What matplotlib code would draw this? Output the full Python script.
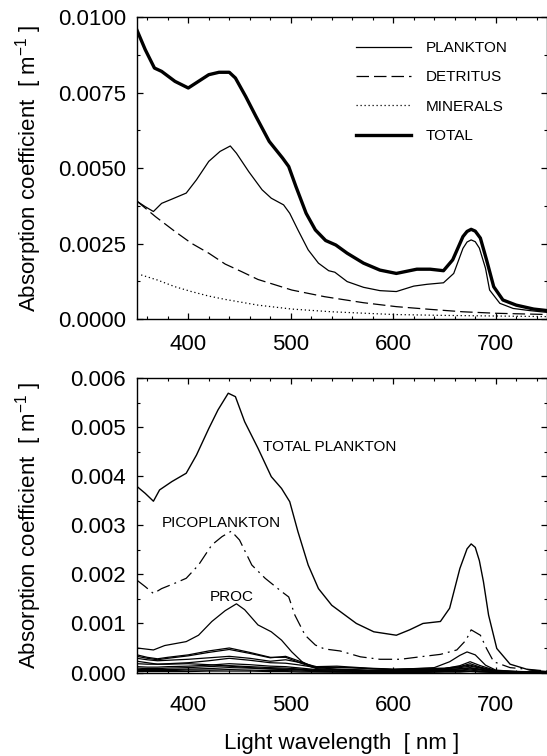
import matplotlib

matplotlib.use("Agg")
import matplotlib.pyplot as plt
from matplotlib.ticker import FormatStrFormatter, MultipleLocator

plt.rcParams["font.family"] = ["Liberation Sans", "DejaVu Sans"]
plt.rcParams["mathtext.default"] = "regular"

# top panel: absorption components (values in 1e-3 m^-1)
wl_total = [350, 358, 367, 374, 387, 400, 410, 420, 430, 440, 446, 456, 466, 479, 492, 498,
            505, 515, 524, 534, 544, 555, 571, 587, 603, 623, 636, 649, 658, 668, 672, 676,
            680, 685, 691, 698, 707, 720, 737, 750]
total = [9.56, 8.92, 8.31, 8.20, 7.87, 7.65, 7.87, 8.09, 8.17, 8.17, 7.98, 7.37, 6.71, 5.88,
         5.33, 5.05, 4.39, 3.50, 2.95, 2.60, 2.45, 2.18, 1.85, 1.62, 1.51, 1.65, 1.65, 1.60,
         1.96, 2.73, 2.90, 2.97, 2.91, 2.68, 1.96, 1.07, 0.63, 0.46, 0.33, 0.28]

wl_plankton = [350, 358, 366, 374, 384, 398, 408, 420, 431, 441, 447, 459, 472, 481, 493, 499,
               507, 517, 527, 537, 543, 555, 571, 587, 603, 620, 633, 649, 659, 668, 672, 676,
               680, 684, 690, 694, 704, 717, 733, 750]
plankton = [3.90, 3.72, 3.56, 3.83, 3.97, 4.17, 4.61, 5.22, 5.55, 5.73, 5.49, 4.88, 4.28, 4.00,
            3.78, 3.50, 2.95, 2.29, 1.85, 1.60, 1.55, 1.24, 1.05, 0.94, 0.91, 1.09, 1.15, 1.20,
            1.51, 2.34, 2.55, 2.62, 2.56, 2.35, 1.68, 0.96, 0.52, 0.35, 0.28, 0.22]

wl_detritus = [350, 368, 387, 403, 420, 436, 452, 468, 485, 501, 517, 533, 550, 571, 603, 636,
               668, 701, 750]
detritus = [3.90, 3.39, 2.90, 2.51, 2.18, 1.82, 1.57, 1.31, 1.13, 0.96, 0.85, 0.74, 0.65, 0.54,
            0.41, 0.32, 0.24, 0.19, 0.15]

wl_minerals = [354, 370, 387, 403, 420, 436, 468, 501, 540, 600, 650, 700, 750]
minerals = [1.46, 1.29, 1.07, 0.91, 0.76, 0.65, 0.46, 0.33, 0.24, 0.15, 0.12, 0.10, 0.08]

# bottom panel: size fractions / groups
wl_tp = [350, 358, 366, 372, 384, 398, 408, 420, 429, 439, 446, 455, 468, 481, 491, 499, 507,
         517, 527, 540, 551, 564, 581, 603, 616, 629, 646, 655, 665, 672, 676, 680, 684, 688,
         693, 701, 714, 733, 750]
total_plankton = [3.79, 3.65, 3.49, 3.72, 3.89, 4.06, 4.43, 4.97, 5.35, 5.69, 5.62, 5.11, 4.57,
                  3.99, 3.75, 3.48, 2.87, 2.19, 1.71, 1.37, 1.20, 1.00, 0.83, 0.76, 0.87, 1.00,
                  1.04, 1.31, 2.12, 2.52, 2.62, 2.55, 2.28, 1.85, 1.17, 0.49, 0.17, 0.05, 0.02]

wl_pico = [350, 358, 366, 374, 387, 398, 410, 423, 433, 442, 450, 462, 475, 491, 498, 504, 514,
           524, 533, 548, 568, 587, 607, 626, 646, 662, 671, 676, 685, 691, 698, 714, 750]
pico = [1.88, 1.75, 1.61, 1.71, 1.82, 1.92, 2.19, 2.60, 2.77, 2.88, 2.70, 2.19, 1.92, 1.65,
        1.54, 1.17, 0.76, 0.56, 0.48, 0.44, 0.32, 0.27, 0.27, 0.32, 0.37, 0.46, 0.66, 0.87,
        0.76, 0.49, 0.22, 0.10, 0.03]

wl_proc = [350, 366, 377, 398, 410, 423, 436, 447, 455, 468, 481, 491, 501, 511, 520, 540, 560,
           600, 640, 655, 665, 672, 680, 690, 700, 720, 750]
proc = [0.50, 0.46, 0.55, 0.63, 0.76, 1.04, 1.26, 1.40, 1.28, 0.97, 0.83, 0.66, 0.42, 0.22,
        0.12, 0.10, 0.10, 0.06, 0.10, 0.22, 0.35, 0.42, 0.36, 0.15, 0.05, 0.02, 0.01]

wl_small = [350, 360, 370, 380, 400, 420, 440, 460, 480, 495, 510, 525, 545, 575, 600, 625, 650,
            665, 675, 685, 700, 725, 750]
small_groups = [
    [0.36, 0.31, 0.28, 0.31, 0.36, 0.44, 0.50, 0.41, 0.31, 0.31, 0.19, 0.08, 0.06, 0.04, 0.04,
     0.05, 0.06, 0.12, 0.18, 0.11, 0.03, 0.01, 0.01],
    [0.33, 0.29, 0.26, 0.29, 0.34, 0.41, 0.47, 0.39, 0.30, 0.33, 0.22, 0.10, 0.07, 0.05, 0.05,
     0.06, 0.08, 0.14, 0.22, 0.14, 0.04, 0.02, 0.01],
    [0.29, 0.26, 0.24, 0.25, 0.27, 0.30, 0.33, 0.29, 0.23, 0.26, 0.20, 0.12, 0.13, 0.09, 0.07,
     0.08, 0.09, 0.12, 0.15, 0.10, 0.03, 0.01, 0.01],
    [0.23, 0.20, 0.17, 0.18, 0.20, 0.24, 0.29, 0.25, 0.20, 0.19, 0.15, 0.10, 0.11, 0.08, 0.06,
     0.07, 0.08, 0.10, 0.13, 0.09, 0.03, 0.01, 0.00],
    [0.18, 0.17, 0.17, 0.17, 0.18, 0.16, 0.13, 0.10, 0.08, 0.07, 0.06, 0.05, 0.05, 0.04, 0.04,
     0.05, 0.06, 0.08, 0.10, 0.07, 0.02, 0.01, 0.00],
    [0.12, 0.11, 0.11, 0.12, 0.13, 0.15, 0.18, 0.16, 0.13, 0.12, 0.09, 0.06, 0.05, 0.04, 0.04,
     0.04, 0.05, 0.07, 0.09, 0.06, 0.02, 0.01, 0.00],
    [0.09, 0.08, 0.08, 0.09, 0.10, 0.12, 0.14, 0.12, 0.10, 0.09, 0.07, 0.04, 0.03, 0.03, 0.03,
     0.03, 0.04, 0.05, 0.07, 0.05, 0.01, 0.00, 0.00],
    [0.06, 0.06, 0.06, 0.06, 0.07, 0.08, 0.10, 0.09, 0.07, 0.06, 0.05, 0.03, 0.02, 0.02, 0.02,
     0.02, 0.03, 0.04, 0.05, 0.03, 0.01, 0.00, 0.00],
    [0.04, 0.04, 0.04, 0.04, 0.05, 0.05, 0.06, 0.05, 0.04, 0.04, 0.03, 0.02, 0.01, 0.01, 0.01,
     0.01, 0.02, 0.02, 0.03, 0.02, 0.01, 0.00, 0.00],
    [0.02, 0.02, 0.02, 0.02, 0.02, 0.03, 0.03, 0.03, 0.02, 0.02, 0.01, 0.01, 0.01, 0.00, 0.00,
     0.00, 0.01, 0.01, 0.02, 0.01, 0.00, 0.00, 0.00],
]

YLABEL = "Absorption coefficient  [ m$^{-1}$ ]"


def scale(vals):
    return [v * 1e-3 for v in vals]


def style_axes(ax, ymax, ymajor, yminor, fmt):
    ax.set_xlim(350, 750)
    ax.set_ylim(0, ymax)
    ax.xaxis.set_major_locator(MultipleLocator(100))
    ax.xaxis.set_minor_locator(MultipleLocator(20))
    ax.yaxis.set_major_locator(MultipleLocator(ymajor))
    ax.yaxis.set_minor_locator(MultipleLocator(yminor))
    ax.yaxis.set_major_formatter(FormatStrFormatter(fmt))
    ax.tick_params(which="both", direction="in", top=True, right=True, labelsize=16)
    ax.tick_params(which="major", length=4.5, width=0.9)
    ax.tick_params(which="minor", length=2.5, width=0.8)
    ax.tick_params(axis="y", pad=8)
    for sp in ax.spines.values():
        sp.set_linewidth(1.0)
    ax.set_ylabel(YLABEL, fontsize=16)
    ax.yaxis.set_label_coords(-0.228, 0.5)


def main() -> None:
    fig = plt.figure(figsize=(5.47, 7.56), dpi=100)
    ax1 = fig.add_axes([0.2505, 0.578, 0.7495, 0.3995])
    ax2 = fig.add_axes([0.2505, 0.1104, 0.7495, 0.3896])

    ax1.plot(wl_plankton, scale(plankton), color="black", lw=0.9, label="PLANKTON")
    ax1.plot(wl_detritus, scale(detritus), color="black", lw=0.9, ls=(0, (10, 4)), label="DETRITUS")
    ax1.plot(wl_minerals, scale(minerals), color="black", lw=0.9, ls=(0, (1, 2.2)), label="MINERALS")
    ax1.plot(wl_total, scale(total), color="black", lw=2.4, solid_joinstyle="round", label="TOTAL")
    style_axes(ax1, 0.01, 0.0025, 0.00125, "%.4f")
    ax1.tick_params(axis="x", pad=11)
    ax1.legend(loc="upper left", bbox_to_anchor=(0.534, 0.92), frameon=False, fontsize=11,
               handlelength=3.6, handletextpad=0.95, labelspacing=1.0, borderpad=0,
               borderaxespad=0)

    for vals in small_groups:
        ax2.plot(wl_small, scale(vals), color="black", lw=0.9)
    ax2.plot(wl_proc, scale(proc), color="black", lw=0.9)
    ax2.plot(wl_pico, scale(pico), color="black", lw=0.9, ls=(0, (11, 4, 1.5, 4)))
    ax2.plot(wl_tp, scale(total_plankton), color="black", lw=1.0)
    style_axes(ax2, 0.006, 0.001, 0.0005, "%.3f")
    ax2.tick_params(axis="x", pad=16)
    ax2.text(473, 0.0046, "TOTAL PLANKTON", fontsize=11, ha="left", va="center")
    ax2.text(374, 0.00304, "PICOPLANKTON", fontsize=11, ha="left", va="center")
    ax2.text(421, 0.00154, "PROC", fontsize=11, ha="left", va="center")
    ax2.set_xlabel("Light wavelength  [ nm ]", fontsize=16)
    ax2.xaxis.set_label_coords(0.5, -0.205)

    fig.savefig("out.png", dpi=100)
    plt.close(fig)


if __name__ == "__main__":
    main()
